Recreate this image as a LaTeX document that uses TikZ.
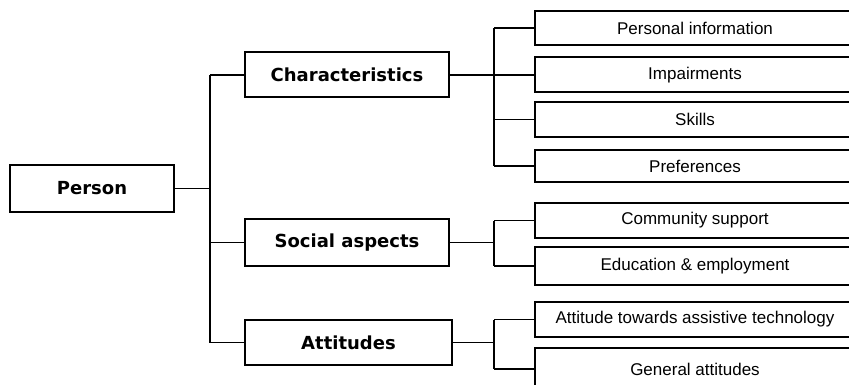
\documentclass[tikz,border=0pt]{standalone}
\usepackage{fontspec}
\setmainfont{Liberation Sans}
\newfontfamily\dejavu{DejaVu Sans}
\begin{document}
\begin{tikzpicture}[x=1pt,y=-1pt,
  box/.style={draw, line width=2pt, rectangle, inner sep=0pt, anchor=center},
  mainbox/.style={box, font=\dejavu\bfseries\fontsize{18}{20}\selectfont},
  leaf/.style={box, minimum width=320pt, font=\fontsize{17}{19}\selectfont},
  link/.style={line width=1.8pt}]
\useasboundingbox (0,0) rectangle (849,385);
\fill[white] (0,0) rectangle (849,385);
% main nodes
\node[mainbox, minimum width=164pt, minimum height=47pt] (person) at (92,188.5) {Person};
\node[mainbox, minimum width=204pt, minimum height=45pt] (char) at (347,75) {Characteristics};
\node[mainbox, minimum width=204pt, minimum height=47pt] (soc) at (347,242.5) {Social aspects};
\node[mainbox, minimum width=207pt, minimum height=45pt] (att) at (348.5,342.5) {Attitudes};
% leaves
\node[leaf, minimum height=34pt] (pi) at (695,28) {Personal information};
\node[leaf, minimum height=35pt] (imp) at (695,75) {Impairments};
\node[leaf, minimum height=35pt] (sk) at (695,119.5) {Skills};
\node[leaf, minimum height=32pt] (pref) at (695,166) {Preferences};
\node[leaf, minimum height=35pt] (cs) at (695,220.5) {Community support};
\node[leaf, minimum height=38pt] (ee) at (695,266) {Education \& employment};
\node[leaf, minimum height=35pt] (atat) at (695,319.5) {Attitude towards assistive technology};
\node[leaf, minimum height=42pt] (ga) at (695,369) {General attitudes};
% trunk
\coordinate (t) at (210,0);
\coordinate (b) at (494,0);
\draw[link] (person.east) -- (person.east -| t);
\draw[link] (char.west -| t) -- (att.west -| t);
\draw[link] (char.west -| t) -- (char.west);
\draw[link] (soc.west -| t) -- (soc.west);
\draw[link] (att.west -| t) -- (att.west);
% characteristics branch
\draw[link] (char.east) -- (char.east -| b);
\draw[link] (pi.west -| b) -- (pref.west -| b);
\draw[link] (pi.west -| b) -- (pi.west);
\draw[link] (imp.west -| b) -- (imp.west);
\draw[link] (sk.west -| b) -- (sk.west);
\draw[link] (pref.west -| b) -- (pref.west);
% social branch
\draw[link] (soc.east) -- (soc.east -| b);
\draw[link] (cs.west -| b) -- (ee.west -| b);
\draw[link] (cs.west -| b) -- (cs.west);
\draw[link] (ee.west -| b) -- (ee.west);
% attitudes branch
\draw[link] (att.east) -- (att.east -| b);
\draw[link] (atat.west -| b) -- (ga.west -| b);
\draw[link] (atat.west -| b) -- (atat.west);
\draw[link] (ga.west -| b) -- (ga.west);
\end{tikzpicture}
\end{document}
